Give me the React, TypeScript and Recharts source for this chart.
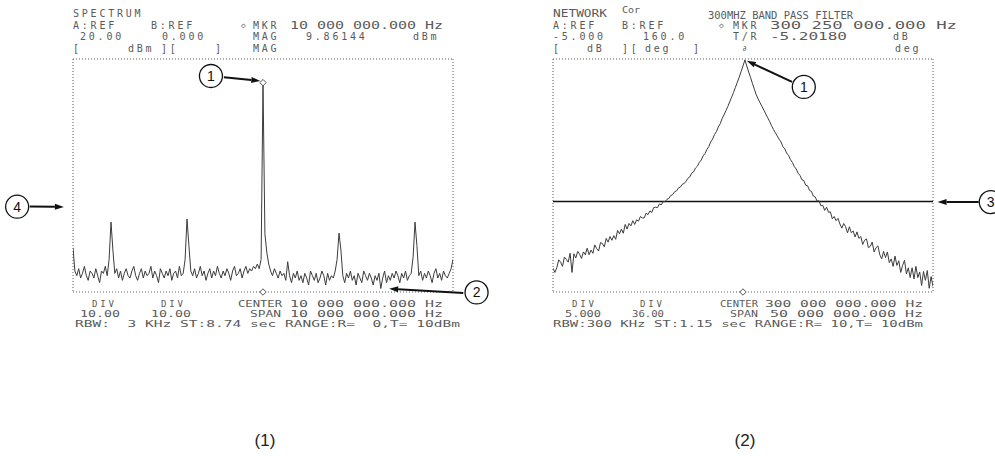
import React from 'react';
import { LineChart, Line, XAxis, YAxis, CartesianGrid, ReferenceLine, ReferenceDot } from 'recharts';

// ---------------- (1) SPECTRUM ----------------
const SPEC_START_MHZ = 5;
const SPEC_STEP_MHZ = 0.05;
const SPEC_LEVELS_DBM = [
  -61, -71, -73, -70, -74, -72, -69, -73, -75, -71,
  -72, -74, -70, -73, -76, -71, -72, -69, -73, -66,
  -50, -62, -72, -70, -74, -71, -75, -72, -70, -73,
  -74, -71, -69, -73, -75, -72, -70, -74, -71, -73,
  -72, -69, -74, -71, -73, -76, -70, -72, -74, -71,
  -73, -70, -75, -72, -71, -74, -69, -73, -72, -66,
  -48.7, -60, -71, -73, -70, -74, -72, -69, -73, -71,
  -75, -72, -70, -74, -71, -73, -69, -72, -74, -71,
  -73, -70, -72, -75, -71, -69, -73, -72, -70, -74,
  -71, -69, -72, -70, -71, -69, -70, -68, -70, -66,
  9.86, -55, -63, -68, -71, -73, -70, -72, -74, -71,
  -73, -72, -75, -67, -73, -76, -72, -74, -71, -75,
  -73, -76, -72, -74, -77, -71, -73, -75, -72, -76,
  -74, -71, -73, -77, -72, -75, -73, -74, -71, -66,
  -54.7, -62, -73, -76, -72, -74, -71, -75, -73, -77,
  -72, -74, -76, -71, -73, -75, -72, -74, -77, -73,
  -75, -72, -78.5, -74, -71, -76, -73, -75, -72, -74,
  -71, -73, -76, -72, -74, -71, -75, -73, -72, -65,
  -50, -60, -73, -71, -75, -72, -74, -71, -73, -76,
  -72, -70, -74, -72, -75, -71, -73, -74, -72, -70,
  -66,
];
const SPEC_X_TICKS = [5, 6, 7, 8, 9, 10, 11, 12, 13, 14, 15];
const SPEC_Y_TICKS = [-80, -70, -60, -50, -40, -30, -20, -10, 0, 10, 20];
const SPEC_MARKER = { f: 10, v: 9.86144 };

// ---------------- (2) NETWORK ----------------
const NET_START_MHZ = 275;
const NET_STEP_MHZ = 0.25;
const NET_LEVELS_DB = [
  -49.9, -50.8, -49.8, -48.1, -48.6, -49.5, -47.5, -48.0, -48.6, -46.7,
  -50.8, -46.8, -47.7, -46.3, -46.9, -47.8, -46.4, -47.0, -45.6, -47.0,
  -46.0, -46.7, -44.9, -45.7, -46.2, -44.4, -44.6, -45.3, -43.5, -44.3,
  -43.1, -43.9, -42.9, -43.7, -41.8, -42.5, -41.5, -42.4, -40.5, -41.5,
  -40.3, -40.8, -39.7, -40.5, -39.5, -39.8, -38.8, -39.1, -39.1, -38.1,
  -38.4, -37.6, -37.9, -36.9, -36.8, -36.9, -36.1, -36.3, -35.6, -35.6,
  -35.1, -34.9, -34.3, -34.1, -33.5, -33.3, -32.7, -32.5, -31.9, -31.7,
  -31.3, -30.6, -30.3, -29.5, -29.2, -28.4, -28.0, -27.2, -26.7, -25.8,
  -25.3, -24.4, -23.8, -22.8, -22.2, -21.2, -20.6, -19.6, -18.9, -17.8,
  -17.0, -16.1, -15.2, -14.2, -13.2, -12.2, -11.1, -10.0, -8.9, -7.7,
  -6.5, -5.2, -6.5, -7.8, -9.0, -10.3, -11.5, -12.7, -13.6, -14.4,
  -15.2, -16.0, -16.8, -17.6, -18.4, -19.3, -20.1, -20.8, -21.5, -22.2,
  -22.8, -23.8, -24.3, -25.2, -25.7, -26.6, -27.2, -28.1, -28.6, -29.5,
  -30.0, -30.9, -31.1, -32.1, -32.2, -33.2, -33.4, -34.4, -34.6, -35.5,
  -35.4, -36.5, -36.4, -37.5, -36.8, -37.9, -37.8, -39.3, -38.8, -39.7,
  -39.2, -40.4, -41.3, -40.3, -41.0, -42.3, -41.0, -42.3, -41.9, -43.2,
  -42.1, -43.5, -43.1, -44.8, -43.9, -43.6, -45.5, -45.2, -44.3, -46.4,
  -45.5, -45.1, -47.0, -47.9, -46.3, -47.6, -46.4, -48.7, -47.9, -49.5,
  -47.3, -49.3, -48.3, -50.8, -49.3, -48.2, -51.1, -49.8, -51.9, -49.8,
  -52.2, -49.5, -51.9, -50.7, -53.6, -50.6, -52.5, -50.4, -54.2, -51.7,
  -53.8,
];
const NET_X_TICKS = [275, 280, 285, 290, 295, 300, 305, 310, 315, 320, 325];
const NET_Y_TICKS = [-55, -50, -45, -40, -35, -30, -25, -20, -15, -10, -5];
const NET_B_TRACE_DB = -35.6;

const specData = SPEC_LEVELS_DBM.map((v, i) => ({ f: SPEC_START_MHZ + i * SPEC_STEP_MHZ, v }));
const netData = NET_LEVELS_DB.map((v, i) => ({ f: NET_START_MHZ + i * NET_STEP_MHZ, v }));

// callouts (numbered circles with arrows), in data units of each panel
const SPEC_CALLOUTS = [
  { n: '1', c: [8.63, 12.7], from: [8.97, 12.2], to: [9.93, 10.6] },
  { n: '2', c: [15.62, -80.2], from: [15.27, -80.4], to: [13.32, -78.6] },
  { n: '4', c: [3.53, -43.4], from: [3.86, -43.3], to: [4.76, -43.5] },
];
const NET_CALLOUTS = [
  { n: '1', c: [308.0, -11.0], from: [306.45, -9.9], to: [300.5, -5.4] },
  { n: '3', c: [332.6, -35.7], from: [331.0, -35.7], to: [325.6, -35.7] },
];

type Txt = { t: string; x: number; y: number; w?: number; fs?: number };
const TEXTS: Txt[] = [
  // left header
  { t: 'SPECTRUM', x: 73, y: 13 },
  { t: 'A:REF', x: 73, y: 25 },
  { t: 'B:REF', x: 151, y: 25 },
  { t: '◇', x: 241, y: 25, fs: 8 },
  { t: 'MKR', x: 253, y: 25 },
  { t: '10 000 000.000 Hz', x: 290, y: 25, w: 153 },
  { t: '20.00', x: 80, y: 36 },
  { t: '0.000', x: 162, y: 36 },
  { t: 'MAG', x: 253, y: 36 },
  { t: '9.86144', x: 306, y: 36 },
  { t: 'dBm', x: 413, y: 36 },
  { t: '[', x: 73, y: 48 },
  { t: 'dBm', x: 128, y: 48 },
  { t: '][', x: 161, y: 48 },
  { t: ']', x: 215, y: 48 },
  { t: 'MAG', x: 253, y: 48 },
  // left footer
  { t: 'DIV', x: 92, y: 304, fs: 9 },
  { t: 'DIV', x: 161, y: 304, fs: 9 },
  { t: 'CENTER', x: 238, y: 304, w: 44, fs: 9 },
  { t: '10 000 000.000 Hz', x: 290, y: 304, w: 153, fs: 9 },
  { t: '10.00', x: 80, y: 314, w: 40, fs: 9 },
  { t: '10.00', x: 151, y: 314, w: 40, fs: 9 },
  { t: 'SPAN', x: 250, y: 314, w: 31, fs: 9 },
  { t: '10 000 000.000 Hz', x: 290, y: 314, w: 153, fs: 9 },
  { t: 'RBW:  3 KHz ST:8.74 sec RANGE:R=  0,T= 10dBm', x: 75, y: 324, w: 385, fs: 9 },
  // right header
  { t: 'NETWORK', x: 553, y: 13, w: 54 },
  { t: 'Cor', x: 622, y: 10, fs: 8, w: 18 },
  { t: '300MHZ BAND PASS FILTER', x: 708, y: 15, w: 145 },
  { t: 'A:REF', x: 553, y: 25 },
  { t: 'B:REF', x: 622, y: 25 },
  { t: '◇', x: 719, y: 25, fs: 8 },
  { t: 'MKR', x: 733, y: 25 },
  { t: '300 250 000.000 Hz', x: 770, y: 25, w: 187 },
  { t: '-5.000', x: 553, y: 36 },
  { t: '160.0', x: 643, y: 36 },
  { t: 'T/R', x: 733, y: 36 },
  { t: '-5.20180', x: 770, y: 36, w: 77 },
  { t: 'dB', x: 893, y: 36 },
  { t: '[', x: 553, y: 48 },
  { t: 'dB', x: 587, y: 48 },
  { t: '][', x: 622, y: 48 },
  { t: 'deg', x: 645, y: 48 },
  { t: ']', x: 693, y: 48 },
  { t: '∂', x: 742, y: 48, fs: 8 },
  { t: 'deg', x: 895, y: 48 },
  // right footer
  { t: 'DIV', x: 572, y: 304, fs: 9 },
  { t: 'DIV', x: 640, y: 304, fs: 9 },
  { t: 'CENTER', x: 720, y: 304, w: 38, fs: 9 },
  { t: '300 000 000.000 Hz', x: 765, y: 304, w: 158, fs: 9 },
  { t: '5.000', x: 565, y: 314, w: 36, fs: 9 },
  { t: '36.00', x: 632, y: 314, w: 32, fs: 9 },
  { t: 'SPAN', x: 730, y: 314, w: 28, fs: 9 },
  { t: '50 000 000.000 Hz', x: 770, y: 314, w: 153, fs: 9 },
  { t: 'RBW:300 KHz ST:1.15 sec RANGE:R= 10,T= 10dBm', x: 553, y: 324, w: 370, fs: 9 },
];
const CAPTIONS = [
  { t: '(1)', x: 265, y: 440 },
  { t: '(2)', x: 745, y: 440 },
];

const MONO = '"DejaVu Sans Mono", "Liberation Mono", monospace';
const TRACE = '#3c3c3c';
const GRID = '#5a5a5a';

const Arrow = (p: any) => {
  const { x1, y1, x2, y2 } = p;
  const dx = x2 - x1;
  const dy = y2 - y1;
  const len = Math.hypot(dx, dy) || 1;
  const ux = dx / len;
  const uy = dy / len;
  const hl = 9;
  const hw = 3;
  const bx = x2 - ux * hl;
  const by = y2 - uy * hl;
  const pts = `${x2},${y2} ${bx - uy * hw},${by + ux * hw} ${bx + uy * hw},${by - ux * hw}`;
  return (
    <g>
      <line x1={x1} y1={y1} x2={bx} y2={by} stroke="#111" strokeWidth={2} />
      <polygon points={pts} fill="#111" />
    </g>
  );
};

const Diamond = (p: any) => {
  const { cx, cy } = p;
  const s = 3.2;
  return (
    <polygon
      points={`${cx},${cy - s} ${cx + s},${cy} ${cx},${cy + s} ${cx - s},${cy}`}
      fill="#fff"
      stroke="#555"
      strokeWidth={1}
    />
  );
};

const renderCallouts = (list: typeof SPEC_CALLOUTS, prefix: string) =>
  list.flatMap((c, i) => [
    <ReferenceLine
      key={`${prefix}l${i}`}
      segment={[{ x: c.from[0], y: c.from[1] }, { x: c.to[0], y: c.to[1] }]}
      ifOverflow="visible"
      shape={Arrow}
    />,
    <ReferenceDot
      key={`${prefix}d${i}`}
      x={c.c[0]}
      y={c.c[1]}
      r={11.5}
      fill="#fff"
      stroke="#111"
      strokeWidth={1.3}
      ifOverflow="visible"
      label={{ value: c.n, position: 'center', fill: '#111', fontSize: 14, fontFamily: '"Liberation Sans", Arial, sans-serif' }}
    />,
  ]);

export default function App() {
  return (
    <div style={{ position: 'absolute', left: 0, top: 0, width: 995, height: 456, background: '#fff', overflow: 'hidden' }}>
      <div style={{ position: 'absolute', left: 0, top: 0 }}>
        <LineChart width={490} height={456} data={specData} margin={{ top: 59, right: 37, bottom: 164, left: 73 }}>
          <CartesianGrid stroke={GRID} strokeDasharray="1 2" strokeWidth={1} />
          <XAxis type="number" dataKey="f" domain={[5, 15]} ticks={SPEC_X_TICKS} tick={false} tickLine={false} axisLine={false} height={0} allowDataOverflow />
          <YAxis type="number" domain={[-80, 20]} ticks={SPEC_Y_TICKS} tick={false} tickLine={false} axisLine={false} width={0} allowDataOverflow />
          <Line type="linear" dataKey="v" stroke={TRACE} strokeWidth={1} dot={false} isAnimationActive={false} />
          <ReferenceDot x={SPEC_MARKER.f} y={SPEC_MARKER.v} shape={Diamond} ifOverflow="visible" />
          <ReferenceDot x={SPEC_MARKER.f} y={-80} shape={Diamond} ifOverflow="visible" />
          {renderCallouts(SPEC_CALLOUTS, 's')}
        </LineChart>
      </div>
      <div style={{ position: 'absolute', left: 500, top: 0 }}>
        <LineChart width={495} height={456} data={netData} margin={{ top: 59, right: 62, bottom: 164, left: 53 }}>
          <CartesianGrid stroke={GRID} strokeDasharray="1 2" strokeWidth={1} />
          <XAxis type="number" dataKey="f" domain={[275, 325]} ticks={NET_X_TICKS} tick={false} tickLine={false} axisLine={false} height={0} allowDataOverflow />
          <YAxis type="number" domain={[-55, -5]} ticks={NET_Y_TICKS} tick={false} tickLine={false} axisLine={false} width={0} allowDataOverflow />
          <ReferenceLine y={NET_B_TRACE_DB} stroke="#111" strokeWidth={1.5} />
          <Line type="linear" dataKey="v" stroke={TRACE} strokeWidth={1} dot={false} isAnimationActive={false} />
          <ReferenceDot x={300} y={-55} shape={Diamond} ifOverflow="visible" />
          {renderCallouts(NET_CALLOUTS, 'n')}
        </LineChart>
      </div>
      <svg width={995} height={456} style={{ position: 'absolute', left: 0, top: 0, pointerEvents: 'none' }}>
        {TEXTS.map((d, i) => {
          const fs = d.fs ?? 10;
          return (
            <text
              key={i}
              x={d.x}
              y={d.y + fs * 0.36}
              fontFamily={MONO}
              fontSize={fs}
              fill="#5a5a5a"
              style={{ whiteSpace: 'pre' }}
              letterSpacing={d.w ? undefined : 2.78}
              textLength={d.w}
              lengthAdjust={d.w ? 'spacingAndGlyphs' : undefined}
            >
              {d.t}
            </text>
          );
        })}
        {CAPTIONS.map((c, i) => (
          <text key={`c${i}`} x={c.x} y={c.y + 6} textAnchor="middle" fontFamily='"Liberation Sans", Arial, sans-serif' fontSize={17} fill="#222">
            {c.t}
          </text>
        ))}
      </svg>
    </div>
  );
}
